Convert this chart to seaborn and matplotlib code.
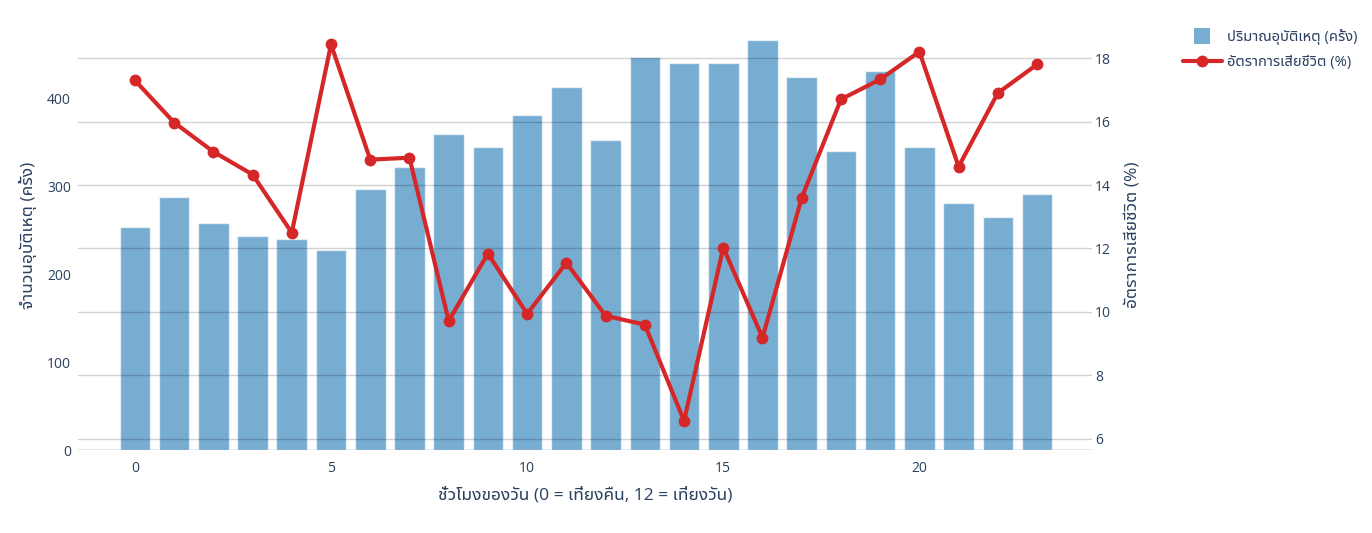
import matplotlib
matplotlib.use("Agg")
import matplotlib.pyplot as plt
from matplotlib.lines import Line2D
import seaborn as sns
import pandas as pd

# ข้อมูลรายชั่วโมง
hours = list(range(24))
accidents = [254, 288, 259, 244, 240, 228, 297, 323, 360, 345, 382, 414,
             353, 448, 441, 441, 467, 425, 341, 432, 345, 282, 266, 292]
fatality_rate = [17.3, 15.97, 15.05, 14.33, 12.5, 18.43, 14.8, 14.86, 9.72, 11.84, 9.94, 11.55,
                 9.88, 9.6, 6.57, 12.03, 9.19, 13.6, 16.7, 17.33, 18.2, 14.58, 16.9, 17.8]

bar_label = "ปริมาณอุบัติเหตุ (ครั้ง)"
line_label = "อัตราการเสียชีวิต (%)"
x_title = "ชั่วโมงของวัน (0 = เที่ยงคืน, 12 = เที่ยงวัน)"
y_left_title = "จำนวนอุบัติเหตุ (ครั้ง)"
y_right_title = "อัตราการเสียชีวิต (%)"

df = pd.DataFrame({"hour": hours, "accidents": accidents, "rate": fatality_rate})

sns.set_style("white")
plt.rcParams['font.family'] = ['Open Sans', 'Noto Sans Thai UI', 'DejaVu Sans']
text_color = "#2a3f5f"
plt.rcParams['text.color'] = text_color
plt.rcParams['axes.labelcolor'] = text_color
plt.rcParams['xtick.color'] = text_color
plt.rcParams['ytick.color'] = text_color

fig = plt.figure(figsize=(13.72, 5.33), dpi=100)
ax = fig.add_axes([78 / 1372, 83 / 533, (1092 - 78) / 1372, (450 - 20) / 533])

sns.barplot(data=df, x="hour", y="accidents", color="#1f77b4", alpha=0.6,
            width=0.78, saturation=1, ax=ax, zorder=2)
ax.set_ylim(0, 490)
ax.set_xlim(-1.45, 24.4)
ax.set_xticks([0, 5, 10, 15, 20])
ax.set_xticklabels(["0", "5", "10", "15", "20"])
ax.set_yticks([0, 100, 200, 300, 400])
ax.tick_params(axis="both", length=0, labelsize=10)
ax.tick_params(axis="y", pad=5)
ax.tick_params(axis="x", pad=8)
ax.axhline(0, color="#e3e9f2", linewidth=1.5, zorder=1)
ax.set_xlabel(x_title, fontsize=12.5, labelpad=8)
ax.set_ylabel(y_left_title, fontsize=12.5, labelpad=7)
sns.despine(ax=ax, left=True, bottom=True)

ax2 = ax.twinx()
sns.lineplot(data=df, x="hour", y="rate", color="#d62728", linewidth=3,
             marker="o", markersize=8.5, markeredgewidth=0, ax=ax2, zorder=5)
ax2.set_ylim(5.65, 19.2)
ax2.set_xlim(-1.45, 24.4)
ax2.set_yticks([6, 8, 10, 12, 14, 16, 18])
ax2.grid(axis="y", color="black", alpha=0.18, linewidth=1)
ax2.set_axisbelow(True)
ax2.tick_params(axis="y", length=0, labelsize=10, pad=2)
ax2.set_ylabel(y_right_title, fontsize=12.5, labelpad=10)
ax2.set_xlabel("")
for s in ax2.spines.values():
    s.set_visible(False)

handles = [
    Line2D([], [], linestyle="none", marker="s", markersize=11,
           markerfacecolor="#1f77b4", markeredgewidth=0, alpha=0.6),
    Line2D([], [], color="#d62728", linewidth=3, marker="o", markersize=8.5,
           markeredgewidth=0),
]
fig.legend(handles, [bar_label, line_label], loc="upper left",
           bbox_to_anchor=(1170 / 1372, 1 - 16 / 533), frameon=False,
           fontsize=10.6, handlelength=2.6, labelspacing=0.65, handletextpad=0.4)

fig.savefig("out.png", dpi=100)
